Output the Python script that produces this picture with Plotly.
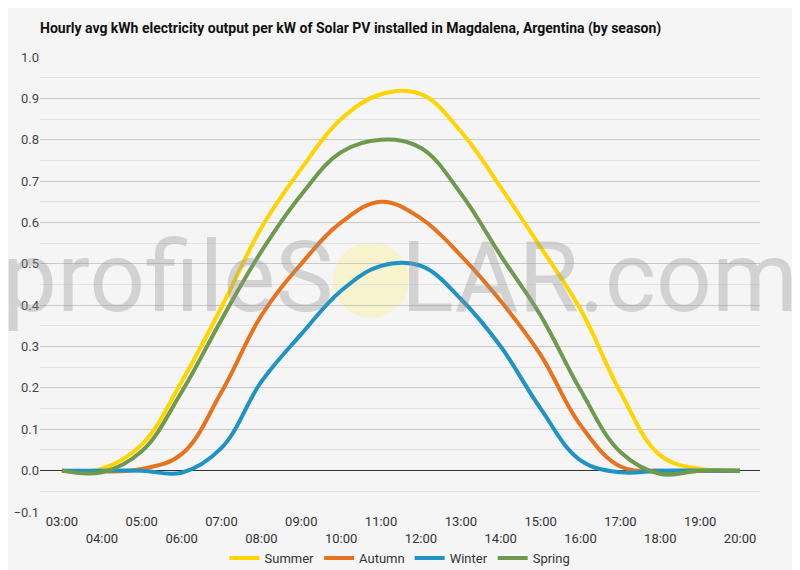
import plotly.graph_objects as go

hours = list(range(3, 21))
tick_labels = ["03:00", "04:00", "05:00", "06:00", "07:00", "08:00", "09:00", "10:00", "11:00",
               "12:00", "13:00", "14:00", "15:00", "16:00", "17:00", "18:00", "19:00", "20:00"]

summer = [0.0, 0.005, 0.063, 0.215, 0.395, 0.587, 0.73, 0.85, 0.91, 0.91, 0.82, 0.685, 0.54, 0.39, 0.19, 0.037, 0.004, 0.0]
autumn = [0.0, -0.002, 0.004, 0.04, 0.19, 0.375, 0.50, 0.60, 0.65, 0.61, 0.52, 0.41, 0.28, 0.11, 0.01, 0.0, 0.0, 0.0]
winter = [0.0, 0.0, 0.0, -0.005, 0.055, 0.215, 0.33, 0.435, 0.495, 0.495, 0.415, 0.30, 0.15, 0.025, -0.004, 0.0, 0.0, 0.0]
spring = [0.0, -0.004, 0.047, 0.19, 0.365, 0.53, 0.667, 0.77, 0.80, 0.78, 0.67, 0.52, 0.375, 0.195, 0.045, -0.008, 0.0, 0.0]

series = [("Summer", summer, "#FFD400"),
          ("Autumn", autumn, "#E8731E"),
          ("Winter", winter, "#1F93C4"),
          ("Spring", spring, "#6E9A4E")]

# staggered tick labels: even hours on a second row
ticktext = [t if i % 2 == 0 else "<br>" + t for i, t in enumerate(tick_labels)]

# the page body adds an 8px offset, so the figure is 792x562
W, H = 792, 562

fig = go.Figure()
for name, vals, col in series:
    fig.add_trace(go.Scatter(x=hours, y=vals, name=name, mode="lines",
                             line=dict(color=col, width=4, shape="spline", smoothing=1.1)))

fig.update_layout(
    width=W, height=H,
    paper_bgcolor="#f5f5f5", plot_bgcolor="#f5f5f5",
    margin=dict(l=32, r=40, t=49, b=58, autoexpand=False),
    font=dict(family="Roboto", size=13, color="#444"),
    title=dict(text="<b>Hourly avg kWh electricity output per kW of Solar PV installed in Magdalena, Argentina (by season)</b>",
               x=32 / W, xanchor="left", y=1 - 20 / H, yanchor="middle",
               font=dict(family="Roboto", size=14, color="#111")),
    showlegend=True,
    legend=dict(orientation="h", x=0.5, xanchor="center", yref="container", y=(H - 535) / H,
                yanchor="top", font=dict(size=13, color="#333"), itemwidth=30,
                bgcolor="rgba(0,0,0,0)"),
    xaxis=dict(range=[2.45, 20.5], tickvals=hours, ticktext=ticktext, showgrid=False,
               zeroline=False, showline=False, ticks="", automargin=False,
               tickfont=dict(color="#333", size=13)),
    yaxis=dict(range=[-0.1, 1.0], dtick=0.1, tick0=0, tickformat=".1f", showgrid=True,
               gridcolor="#c8c8c8", gridwidth=1, zeroline=True, zerolinecolor="#333",
               zerolinewidth=1, showline=False, ticks="", automargin=False,
               tickfont=dict(color="#444", size=13),
               minor=dict(dtick=0.05, tick0=0, showgrid=True, gridcolor="#e2e2e2", gridwidth=1)),
)

# watermark sun and text
fig.add_shape(type="circle", xref="paper", yref="paper",
              x0=(333 - 40) / 720, x1=(409 - 40) / 720,
              y0=(512 - 318) / 455, y1=(512 - 242) / 455,
              fillcolor="rgba(248,244,195,0.8)", line=dict(width=0), layer="below")
fig.add_annotation(xref="paper", yref="paper", x=(400 - 40) / 720, y=(512 - 277) / 455,
                   text="profileS<span style='color:rgba(0,0,0,0)'>O</span>LAR.com",
                   showarrow=False, font=dict(family="Roboto", size=98, color="rgba(150,150,150,0.37)"),
                   xanchor="center", yanchor="middle")

fig.write_html("out.html")
